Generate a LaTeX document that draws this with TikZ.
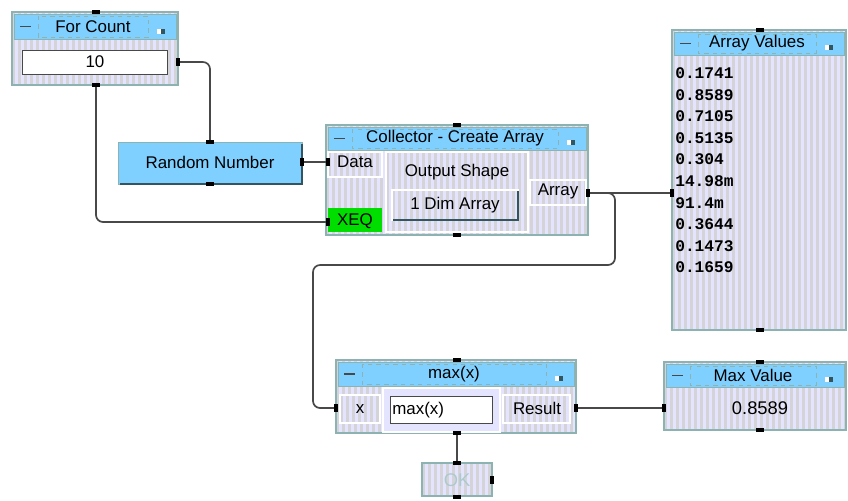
\documentclass[tikz,border=0pt]{standalone}
\usepackage{fontspec}
\setmainfont{Liberation Sans}
\newfontfamily\valfont{Liberation Mono}
\usetikzlibrary{calc,positioning}

\definecolor{titlebl}{RGB}{128,208,255}
\definecolor{lav}{RGB}{228,228,255}
\definecolor{stripegr}{RGB}{212,212,216}
\definecolor{edgegr}{RGB}{140,178,178}
\definecolor{wiregr}{RGB}{72,72,72}
\definecolor{xeqgreen}{RGB}{0,222,0}
\definecolor{darkedge}{RGB}{50,85,95}

\tikzset{
  striped/.style={fill=lav, path picture={
      \foreach \s in {0,6,...,270}
        \fill[stripegr] ([xshift=\s*0.709pt]path picture bounding box.south west) rectangle ++(2.3pt,300pt);}},
  frame/.style={draw=edgegr, line width=0.8pt, striped},
  title/.style={draw=edgegr, line width=0.6pt, fill=titlebl},
  term/.style={draw=white, line width=0.8pt, striped},
  field/.style={draw=wiregr, line width=0.6pt, fill=white},
  port/.style={fill=black, inner sep=0pt, minimum width=5.5pt, minimum height=3pt},
  sport/.style={fill=black, inner sep=0pt, minimum width=3pt, minimum height=6pt},
  wire/.style={draw=wiregr, line width=1.2pt, rounded corners=5pt},
  lbl/.style={inner sep=0pt, font=\fontsize{12}{14}\selectfont},
  val/.style={inner sep=0pt, anchor=west, font=\valfont\bfseries\fontsize{11.5}{13}\selectfont}
}

% title bar of a window: name, x1, y1, x2, y2, text
\newcommand\winbar[6]{%
  \draw[title] (#2,#3) rectangle (#4,#5);
  \draw[edgegr, dashed] (#2+24,#3+2) rectangle (#4-28,#5-2);
  \draw[wiregr, line width=1pt] (#2+6,{(#3+#5)/2}) -- (#2+17,{(#3+#5)/2});
  \fill[white] (#4-19,#5-10) rectangle (#4-11,#5-5);
  \fill[darkedge] (#4-15,#5-10) rectangle (#4-11,#5-5);
  \node[lbl] (#1) at ({(#2+#4-4)/2},{(#3+#5)/2}) {#6};
}

\begin{document}
\begin{tikzpicture}[x=0.709pt, y=-0.709pt]
  \useasboundingbox (0,0) rectangle (848,500);

  % For Count
  \draw[frame] (12,12) rectangle (178,85);
  \winbar{fctitle}{14}{14}{176}{39}{For Count}
  \draw[field] (22,50) rectangle (167,74);
  \node[lbl] (fcval) at (95,62) {10};

  % Random Number
  \draw[title] (118,142) rectangle (302,184);
  \draw[darkedge, line width=1.5pt] (120,184) -- (302,184) -- (302,144);
  \node[lbl] (rnlbl) at (210,162) {Random Number};

  % Collector
  \draw[frame] (326,125) rectangle (588,235);
  \winbar{coltitle}{328}{127}{586}{150}{Collector - Create Array}
  \draw[term] (328,152) rectangle (382,177);
  \node[lbl] (datalbl) at (355,162) {Data};
  \fill[xeqgreen] (328,208) rectangle (382,232);
  \node[lbl] (xeqlbl) at (355,221) {XEQ};
  \draw[term] (386,152) rectangle (528,232);
  \node[lbl] (shapelbl) at (457,172) {Output Shape};
  \draw[term] (392,190) rectangle (518,220);
  \draw[darkedge, line width=1.2pt] (393,220) -- (518,220) -- (518,191);
  \node[lbl] (dimlbl) at (455,205) {1 Dim Array};
  \draw[term] (530,180) rectangle (586,205);
  \node[lbl] (arrlbl) at (558,191) {Array};

  % Array Values
  \draw[frame] (672,30) rectangle (846,330);
  \winbar{avtitle}{674}{32}{844}{55}{Array Values}
  \foreach \v [count=\i] in {0.1741,0.8589,0.7105,0.5135,0.304,14.98m,91.4m,0.3644,0.1473,0.1659}
    \node[val] (av\i) at (675,{51.5+21.6*\i}) {\v};

  % max(x)
  \draw[frame] (336,360) rectangle (576,433);
  \winbar{mxtitle}{338}{362}{574}{386}{max(x)}
  \draw[term] (340,395) rectangle (380,423);
  \node[lbl] (xlbl) at (360,409) {x};
  \draw[draw=white, line width=0.8pt, fill=lav] (383,388) rectangle (500,432);
  \draw[field] (390,396) rectangle (492,423);
  \node[lbl, anchor=west] (fxlbl) at (392,410) {max(x)};
  \draw[term] (503,395) rectangle (570,423);
  \node[lbl] (reslbl) at (537,408) {Result};

  % Max Value
  \draw[frame] (664,362) rectangle (846,430);
  \winbar{mvtitle}{666}{364}{844}{387}{Max Value}
  \node[lbl, font=\fontsize{13}{15}\selectfont] (mvval) at (760,408) {0.8589};

  % OK
  \draw[frame] (422,463) rectangle (492,496);
  \node[lbl, text=edgegr!70!white, font=\fontsize{13}{15}\selectfont] (oklbl) at (457,480) {OK};

  % coordinates for the branch
  \coordinate (tap) at (615,193);
  \coordinate (bend) at (313,265);

  % wires
  \draw[wire] (178,62) -| (210,142);
  \draw[wire] (302,162) -- (328,162);
  \draw[wire] (96,85) |- (328,222);
  \draw[wire] (588,193) -- (672,193);
  \draw[wire] (588,193) -- (tap) |- (bend) |- (336,408);
  \draw[wire] (457,433) -- (457,463);
  \draw[wire] (576,408) -- (664,408);

  % ports
  \node[port] (fctop) at (96,12) {};
  \node[port] (fcbot) at (96,85) {};
  \node[sport] (fcout) at (178,62) {};
  \node[port] (rntop) at (210,142) {};
  \node[port] (rnbot) at (210,184) {};
  \node[sport] (rnout) at (302,162) {};
  \node[sport] (coldata) at (328,162) {};
  \node[sport] (colxeq) at (328,222) {};
  \node[port] (coltop) at (457,125) {};
  \node[port] (colbot) at (457,235) {};
  \node[sport] (colarr) at (588,193) {};
  \node[sport] (avin) at (672,193) {};
  \node[port] (avtop) at (760,30) {};
  \node[port] (avbot) at (760,330) {};
  \node[sport] (mxin) at (336,408) {};
  \node[port] (mxtop) at (457,360) {};
  \node[port] (mxbot) at (457,433) {};
  \node[sport] (mxout) at (576,408) {};
  \node[port] (oktop) at (457,463) {};
  \node[sport] (okout) at (492,480) {};
  \node[port] (okbot) at (457,497) {};
  \node[sport] (mvin) at (664,408) {};
  \node[port] (mvtop) at (760,362) {};
  \node[port] (mvbot) at (760,430) {};
\end{tikzpicture}
\end{document}
